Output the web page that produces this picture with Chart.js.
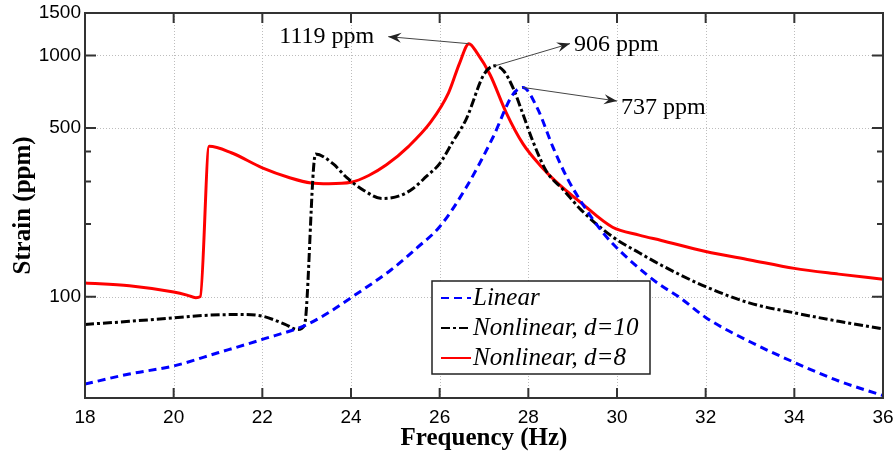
<!DOCTYPE html>
<html>
<head>
<meta charset="utf-8">
<script src="https://cdn.jsdelivr.net/npm/chart.js@4.4.0/dist/chart.umd.min.js"></script>
<style>
  html, body { margin: 0; padding: 0; background: #fff; }
  #wrap { width: 894px; height: 451px; }
</style>
</head>
<body>
<div id="wrap"><canvas id="strainChart" width="894" height="451"></canvas></div>
<script>
// values: frequency (Hz) and strain (ppm)
const linearFreq = [18, 19, 20, 21, 22, 23, 23.5, 24, 24.9, 25.5, 26, 26.6, 27.2, 27.65, 27.88, 28.2, 28.56, 28.87, 29.17, 29.55, 29.9, 30.68, 30.97, 31.42, 32, 33, 34, 35, 36];
const linearStrain = [43.4, 47.8, 51.6, 58.5, 66.5, 76.5, 86, 99, 129, 160, 195, 284, 457, 689, 737, 606, 415, 312, 251, 198, 166, 123, 112, 99, 82, 65, 53.4, 44.7, 38.9];

const nl10Freq = [18, 19, 20, 20.8, 21.5, 22, 22.5, 22.8, 22.95, 23.2, 23.6, 23.9, 24.3, 24.7, 25.1, 25.4, 25.7, 26, 26.3, 26.6, 27, 27.25, 27.45, 27.66, 27.88, 28.1, 28.4, 28.8, 29.2, 29.9, 30.5, 31, 32, 33, 34, 35, 36];
const nl10Strain = [76.7, 79, 81.7, 83.8, 84.3, 83, 77, 73, 76, 390, 355, 312, 275, 255, 262, 281, 315, 356, 440, 545, 835, 906, 860, 730, 570, 442, 333, 276, 228, 177, 152, 135, 110, 94, 85.7, 79, 73.5];

const nl8Freq = [18, 19, 20, 20.3, 20.5, 20.6, 20.8, 21.3, 22, 22.6, 23.1, 23.5, 24, 24.4, 24.8, 25.3, 25.8, 26.2, 26.45, 26.66, 26.85, 27.14, 27.5, 27.88, 28.3, 28.6, 29.2, 29.9, 30.5, 31, 32, 33, 34, 35, 36];
const nl8Strain = [114, 111, 104.5, 101.5, 99, 100, 420, 395, 342, 312, 296, 294, 298, 318, 352, 420, 530, 700, 930, 1119, 1020, 830, 580, 430, 345, 303, 244, 194, 180, 171, 154, 142, 131, 124, 118];

const xTickValues = [18, 20, 22, 24, 26, 28, 30, 32, 34, 36];
const yTickValues = [100, 200, 300, 400, 500, 1000, 1500];
const yTickLabels = ["100", "", "", "", "500", "1000", "1500"];
const yGridValues = [100, 500, 1000];

// peak annotations: where the arrow starts and where it points
const peakText = ["1119 ppm", "906 ppm", "737 ppm"];
const peakFreq = [26.66, 27.25, 27.88];
const peakStrain = [1119, 906, 737];
const arrowFreq = [24.84, 28.94, 30.0];
const arrowStrain = [1197, 1120, 647];

function toPoints(xs, ys) {
  return xs.map((x, i) => ({ x: x, y: ys[i] }));
}

function drawArrowHead(ctx, x0, y0, x1, y1) {
  const ang = Math.atan2(y1 - y0, x1 - x0);
  const len = 13, half = 5;
  ctx.save();
  ctx.translate(x1, y1);
  ctx.rotate(ang);
  ctx.beginPath();
  ctx.moveTo(0, 0);
  ctx.lineTo(-len, -half);
  ctx.lineTo(-len * 0.65, 0);
  ctx.lineTo(-len, half);
  ctx.closePath();
  ctx.fill();
  ctx.restore();
}

const framePlugin = {
  id: "frame",
  beforeDatasetsDraw(chart) {
    const { ctx, chartArea: a, scales: { x, y } } = chart;
    ctx.save();
    ctx.strokeStyle = "#bdbdbd";
    ctx.lineWidth = 1;
    ctx.setLineDash([1, 2]);
    xTickValues.slice(1, -1).forEach(v => {
      const px = Math.round(x.getPixelForValue(v)) + 0.5;
      ctx.beginPath(); ctx.moveTo(px, a.top); ctx.lineTo(px, a.bottom); ctx.stroke();
    });
    yGridValues.forEach(v => {
      const py = Math.round(y.getPixelForValue(v)) + 0.5;
      ctx.beginPath(); ctx.moveTo(a.left, py); ctx.lineTo(a.right, py); ctx.stroke();
    });
    ctx.restore();
  },
  afterDatasetsDraw(chart) {
    const { ctx, chartArea: a, scales: { x, y } } = chart;
    ctx.save();

    // box and inward ticks
    ctx.strokeStyle = "#333";
    ctx.lineWidth = 2;
    ctx.strokeRect(a.left, a.top, a.right - a.left, a.bottom - a.top);
    xTickValues.forEach(v => {
      const px = x.getPixelForValue(v);
      ctx.beginPath();
      ctx.moveTo(px, a.bottom); ctx.lineTo(px, a.bottom - 10);
      ctx.moveTo(px, a.top); ctx.lineTo(px, a.top + 10);
      ctx.stroke();
    });
    yTickValues.forEach((v, i) => {
      const py = y.getPixelForValue(v);
      const len = yTickLabels[i] ? 11 : 6;
      ctx.beginPath();
      ctx.moveTo(a.left, py); ctx.lineTo(a.left + len, py);
      ctx.moveTo(a.right, py); ctx.lineTo(a.right - len, py);
      ctx.stroke();
    });

    // peak annotations
    ctx.strokeStyle = "#444";
    ctx.lineWidth = 1;
    ctx.font = "24px 'Liberation Serif'";
    ctx.textBaseline = "middle";
    peakText.forEach((t, i) => {
      const x0 = x.getPixelForValue(peakFreq[i]);
      const y0 = y.getPixelForValue(peakStrain[i]);
      const x1 = x.getPixelForValue(arrowFreq[i]);
      const y1 = y.getPixelForValue(arrowStrain[i]);
      ctx.beginPath(); ctx.moveTo(x0, y0); ctx.lineTo(x1, y1); ctx.stroke();
      ctx.fillStyle = "#222";
      drawArrowHead(ctx, x0, y0, x1, y1);
      ctx.fillStyle = "#000";
      if (x1 < x0) {
        ctx.textAlign = "right";
        ctx.fillText(t, x1 - 14, y1);
      } else {
        ctx.textAlign = "left";
        ctx.fillText(t, x1 + 4, y1 + (i === 2 ? 7 : 1));
      }
    });

    // legend box
    const lx = 432, ly = 281, lw = 218, lh = 93;
    ctx.fillStyle = "#fff";
    ctx.fillRect(lx, ly, lw, lh);
    ctx.strokeStyle = "#222";
    ctx.lineWidth = 1.5;
    ctx.strokeRect(lx, ly, lw, lh);
    ctx.font = "italic 25px 'Liberation Serif'";
    ctx.textAlign = "left";
    ctx.textBaseline = "middle";
    chart.data.datasets.forEach((ds, i) => {
      const ry = ly + 17 + i * 30;
      ctx.strokeStyle = ds.borderColor;
      ctx.lineWidth = 2;
      ctx.setLineDash(ds.borderDash || []);
      ctx.beginPath(); ctx.moveTo(lx + 9, ry); ctx.lineTo(lx + 39, ry); ctx.stroke();
      ctx.setLineDash([]);
      ctx.fillStyle = "#000";
      ctx.fillText(ds.label, lx + 41, ry);
    });
    ctx.restore();
  }
};

const ctx = document.getElementById("strainChart").getContext("2d");
const strainChart = new Chart(ctx, {
  type: "scatter",
  data: {
    datasets: [
      {
        label: "Linear",
        data: toPoints(linearFreq, linearStrain),
        borderColor: "#0000ff",
        borderWidth: 3,
        borderDash: [8, 5],
      },
      {
        label: "Nonlinear, d=10",
        data: toPoints(nl10Freq, nl10Strain),
        borderColor: "#000000",
        borderWidth: 3,
        borderDash: [9, 3, 3, 3],
      },
      {
        label: "Nonlinear, d=8",
        data: toPoints(nl8Freq, nl8Strain),
        borderColor: "#ff0000",
        borderWidth: 3,
      },
    ],
  },
  options: {
    responsive: false,
    animation: false,
    showLine: true,
    elements: {
      point: { radius: 0, hoverRadius: 0 },
      line: { cubicInterpolationMode: "monotone", fill: false },
    },
    layout: { padding: { top: 13, right: 11, left: 0, bottom: 0 } },
    plugins: {
      legend: { display: false },
      tooltip: { enabled: false },
    },
    scales: {
      x: {
        type: "linear",
        min: 18,
        max: 36,
        afterBuildTicks: s => { s.ticks = xTickValues.map(v => ({ value: v })); },
        afterFit: s => { s.height = 53; s.paddingLeft = 0; s.paddingRight = 0; },
        grid: { display: false, drawTicks: false },
        border: { display: false },
        ticks: {
          autoSkip: false,
          maxRotation: 0,
          padding: 8,
          color: "#000",
          font: { family: "'Liberation Sans'", size: 19 },
        },
        title: {
          display: true,
          text: "Frequency (Hz)",
          color: "#000",
          font: { family: "'Liberation Serif'", size: 25, weight: "bold" },
          padding: { top: 0, bottom: -3 },
        },
      },
      y: {
        type: "logarithmic",
        min: 38,
        max: 1500,
        afterBuildTicks: s => { s.ticks = yTickValues.map(v => ({ value: v })); },
        afterFit: s => { s.width = 85; s.paddingTop = 0; s.paddingBottom = 0; },
        grid: { display: false, drawTicks: false },
        border: { display: false },
        ticks: {
          autoSkip: false,
          padding: 4,
          color: "#000",
          font: { family: "'Liberation Sans'", size: 19 },
          callback: (v, i) => yTickLabels[i],
        },
        title: {
          display: true,
          text: "Strain (ppm)",
          color: "#000",
          font: { family: "'Liberation Serif'", size: 25, weight: "bold" },
          padding: { top: 9, bottom: 0 },
        },
      },
    },
  },
  plugins: [framePlugin],
});
</script>
</body>
</html>
